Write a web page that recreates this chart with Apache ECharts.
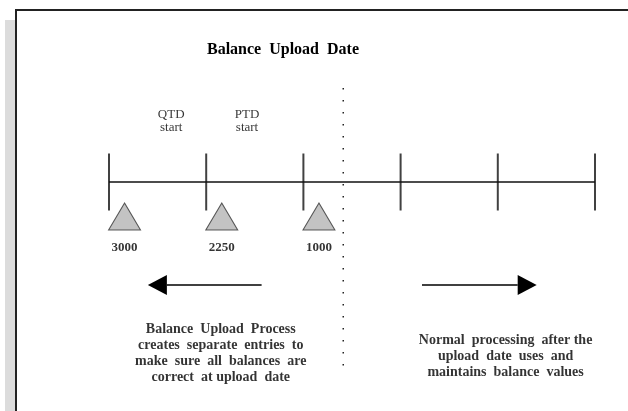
<!DOCTYPE html>
<html>
<head>
<meta charset="utf-8">
<title>Balance Upload Date</title>
<script src="https://cdn.jsdelivr.net/npm/echarts@6/dist/echarts.min.js"></script>
<style>
  html, body { margin: 0; padding: 0; background: #fff; }
  #chart { width: 628px; height: 411px; }
</style>
</head>
<body>
<div id="chart"></div>
<script>
// periods on the timeline (tick marks)
const periodTicks = [0, 1, 2, 3, 4, 5];
// balances entered by the upload process, one triangle each
const balances = [3000, 2250, 1000];
const balancePeriods = [0.16, 1.16, 2.16];
// the upload date itself (dotted line)
const uploadDate = 2.41;
const uploadSpan = [-94, 194];
// period start labels
const startLabels = ["QTD\nstart", "PTD\nstart"];
const startLabelPeriods = [0.64, 1.42];
// arrows: [tail, tip, row]
const arrows = [
  [1.57, 0.40, 103],
  [3.22, 4.40, 103]
];
// explanation text under each arrow
const notes = [
  "Balance  Upload  Process\ncreates  separate  entries  to\nmake  sure  all  balances  are\ncorrect  at upload  date",
  "Normal  processing  after the\nupload  date  uses  and\nmaintains  balance  values"
];
const notePeriods = [1.15, 4.08];
const noteRows = [171.5, 174];

const font = "'Liberation Serif', 'DejaVu Serif', serif";
const ink = "#000";

const chart = echarts.init(document.getElementById("chart"));

chart.setOption({
  backgroundColor: "#fff",
  animation: false,
  graphic: [
    // grey strip on the left
    { type: "rect", shape: { x: 5, y: 20, width: 10, height: 400 }, style: { fill: "#dcdcdc" }, silent: true },
    // frame (top and left edge)
    { type: "polyline", shape: { points: [[16, 411], [16, 10], [628, 10]] }, style: { stroke: "#222", lineWidth: 2, fill: null }, silent: true },
    {
      type: "text", x: 283, y: 50,
      style: { text: "Balance  Upload  Date", font: "bold 16px " + font, fill: ink, align: "center", verticalAlign: "middle" }
    }
  ],
  grid: { left: 109, right: 33, top: 0, bottom: 0 },
  xAxis: { type: "value", min: 0, max: 5, show: false },
  yAxis: { type: "value", min: -182, max: 229, inverse: true, show: false },
  series: [
    {
      // timeline
      type: "line",
      data: [[periodTicks[0], 0], [periodTicks[periodTicks.length - 1], 0]],
      showSymbol: false,
      lineStyle: { color: "#111", width: 1.5 },
      silent: true
    },
    {
      // upload date
      type: "line",
      data: [[uploadDate, uploadSpan[0]], [uploadDate, uploadSpan[1]]],
      showSymbol: false,
      lineStyle: { color: "#222", width: 1.5, type: [1.5, 10.5] },
      silent: true
    },
    {
      // period ticks
      type: "scatter",
      data: periodTicks.map(p => [p, 0]),
      symbol: "rect",
      symbolSize: [2, 57],
      itemStyle: { color: "#111" },
      clip: false,
      silent: true
    },
    {
      // balances
      type: "scatter",
      data: balances.map((b, i) => ({ value: [balancePeriods[i], 34.5], name: String(b) })),
      symbol: "triangle",
      symbolSize: [32, 27],
      itemStyle: { color: "#b4b4b4", borderColor: "#333", borderWidth: 1 },
      label: {
        show: true, position: "bottom", distance: 11,
        formatter: p => p.name,
        fontFamily: font, fontWeight: "bold", fontSize: 13, color: ink
      },
      clip: false,
      silent: true
    },
    {
      // start labels
      type: "scatter",
      data: startLabels.map((t, i) => ({ value: [startLabelPeriods[i], -60.5], name: t })),
      symbolSize: 0,
      label: {
        show: true, position: "inside", formatter: p => p.name,
        fontFamily: font, fontSize: 13, lineHeight: 13, color: ink, align: "center"
      },
      silent: true
    },
    {
      // notes
      type: "scatter",
      data: notes.map((t, i) => ({ value: [notePeriods[i], noteRows[i]], name: t })),
      symbolSize: 0,
      label: {
        show: true, position: "inside", formatter: p => p.name,
        fontFamily: font, fontWeight: "bold", fontSize: 14, lineHeight: 16, color: ink, align: "center"
      },
      silent: true
    },
    {
      // arrows
      type: "custom",
      data: arrows,
      renderItem(params, api) {
        const a = api.coord([api.value(0), api.value(2)]);
        const b = api.coord([api.value(1), api.value(2)]);
        const dir = Math.sign(b[0] - a[0]);
        const base = b[0] - dir * 19;
        return {
          type: "group",
          children: [
            { type: "line", shape: { x1: a[0], y1: a[1], x2: base, y2: b[1] }, style: { stroke: "#000", lineWidth: 1.5 } },
            { type: "polygon", shape: { points: [[b[0], b[1]], [base, b[1] - 10], [base, b[1] + 10]] }, style: { fill: "#000" } }
          ]
        };
      },
      clip: false,
      silent: true
    }
  ]
});
</script>
</body>
</html>
